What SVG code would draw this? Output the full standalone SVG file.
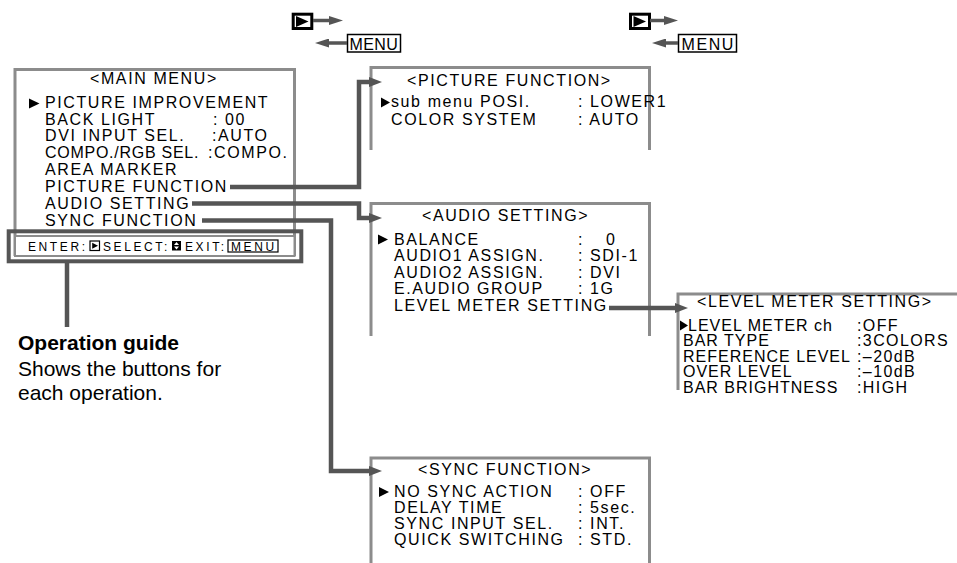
<svg xmlns="http://www.w3.org/2000/svg" width="957" height="563" viewBox="0 0 957 563">
<defs>
<style>
text{font-family:"Liberation Sans",Arial,sans-serif;fill:#000}
.m{font-size:16px;letter-spacing:1.6px}
.lv{font-size:16px;letter-spacing:1px}
.lvv{font-size:16px;letter-spacing:1.4px}
.g{font-size:12px;letter-spacing:2.6px}
.frame{fill:none;stroke:#8c8c8c;stroke-width:3}
.conn{fill:none;stroke:#555;stroke-width:4.5}
.leg{fill:none;stroke:#555;stroke-width:3.5}
.cap{font-size:21px}
</style>
<marker id="ah" markerUnits="userSpaceOnUse" markerWidth="13" markerHeight="10" refX="0" refY="5" orient="auto">
<path d="M0,0 L13,5 L0,10 z" fill="#555"/>
</marker>
<marker id="ah2" markerUnits="userSpaceOnUse" markerWidth="14" markerHeight="9" refX="0" refY="4.5" orient="auto">
<path d="M0,0 L14,4.5 L0,9 z" fill="#555"/>
</marker>
</defs>

<g id="legend">
<rect x="293.2" y="14.2" width="18.6" height="14.3" fill="#fff" stroke="#000" stroke-width="3"/>
<polygon points="296,16 296,27 308.5,21.5" fill="#000"/>
<rect x="347.5" y="34.5" width="53" height="17.5" fill="#fff" stroke="#000" stroke-width="1.5"/>
<text x="349.5" y="49.5" style="font-size:16px;letter-spacing:0.4px">MENU</text>
<rect x="630.5" y="14.2" width="19" height="14.3" fill="#fff" stroke="#000" stroke-width="3"/>
<polygon points="633.5,16 633.5,27 646,21.5" fill="#000"/>
<rect x="678.5" y="34.5" width="58" height="17.5" fill="#fff" stroke="#000" stroke-width="1.5"/>
<text x="681.5" y="49.5" style="font-size:16px;letter-spacing:1.6px">MENU</text>
</g>

<g id="main-menu">
<path class="frame" d="M15,256 V69.5 H294.5 V256"/>
<text class="m" x="90" y="84">&lt;MAIN MENU&gt;</text>
<polygon points="29,98.5 39.5,103.5 29,108.5" fill="#000"/>
<text class="m" x="45" y="108">PICTURE IMPROVEMENT</text>
<text class="m" x="45" y="124.5">BACK LIGHT</text>
<text class="m" x="213" y="124.5">: 00</text>
<text class="m" x="45" y="141">DVI INPUT SEL.</text>
<text class="m" x="212" y="141">:AUTO</text>
<text class="m" x="45" y="158" textLength="155" lengthAdjust="spacing">COMPO./RGB SEL.</text>
<text class="m" x="208" y="158">:COMPO.</text>
<text class="m" x="45" y="174.5">AREA MARKER</text>
<text class="m" x="45" y="191.5">PICTURE FUNCTION</text>
<text class="m" x="45" y="208.5">AUDIO SETTING</text>
<text class="m" x="45" y="225.5">SYNC FUNCTION</text>
</g>

<g id="operation-guide">
<rect x="15" y="236" width="279.5" height="20" fill="#fff" stroke="#8c8c8c" stroke-width="2"/>
<rect x="8.7" y="231.3" width="292.6" height="30" fill="none" stroke="#555" stroke-width="4"/>
<text class="g" x="28" y="250.5">ENTER:</text>
<rect x="90" y="241" width="9.5" height="9.5" fill="#fff" stroke="#000" stroke-width="1.2"/>
<polygon points="92.2,242.7 92.2,248.8 98,245.75" fill="#000"/>
<text class="g" x="103" y="250.5">SELECT:</text>
<rect x="172" y="241" width="9" height="9.5" fill="#000"/>
<polygon points="176.5,242 174,244.9 179,244.9" fill="#fff"/>
<polygon points="176.5,249.5 174,246.6 179,246.6" fill="#fff"/>
<text class="g" x="185" y="250.5">EXIT:</text>
<rect x="228" y="240" width="50" height="12" fill="#fff" stroke="#000" stroke-width="1.2"/>
<text class="g" x="231" y="250.5">MENU</text>
<text class="cap" x="18" y="350" font-weight="bold">Operation guide</text>
<text class="cap" x="18" y="375.5">Shows the buttons for</text>
<text class="cap" x="18" y="400">each operation.</text>
</g>

<g id="picture-function">
<path class="frame" d="M371,150 V67.5 H649.5 V150"/>
<text class="m" x="407" y="86">&lt;PICTURE FUNCTION&gt;</text>
<polygon points="381,97.5 390,102.5 381,107.5" fill="#000"/>
<text class="m" x="391" y="107">sub menu POSI.</text>
<text class="m" x="578" y="107">: LOWER1</text>
<text class="m" x="391" y="125">COLOR SYSTEM</text>
<text class="m" x="578" y="125">: AUTO</text>
</g>

<g id="audio-setting">
<path class="frame" d="M371,336 V203.5 H649.5 V336"/>
<text class="m" x="422" y="221">&lt;AUDIO SETTING&gt;</text>
<polygon points="378,234.5 388,239.5 378,244.5" fill="#000"/>
<text class="m" x="394" y="245">BALANCE</text>
<text class="m" x="578" y="245">:</text>
<text class="m" x="606" y="245">0</text>
<text class="m" x="394" y="261">AUDIO1 ASSIGN.</text>
<text class="m" x="578" y="261">: SDI-1</text>
<text class="m" x="394" y="277.5">AUDIO2 ASSIGN.</text>
<text class="m" x="578" y="277.5">: DVI</text>
<text class="m" x="394" y="294">E.AUDIO GROUP</text>
<text class="m" x="578" y="294">: 1G</text>
<text class="m" x="394" y="311">LEVEL METER SETTING</text>
</g>

<g id="level-meter-setting">
<path class="frame" d="M678,390 V294 H960"/>
<text class="m" x="697" y="306.5">&lt;LEVEL METER SETTING&gt;</text>
<polygon points="680,320.5 688,325.5 680,330.5" fill="#000"/>
<text class="lv" x="688" y="330.5">LEVEL METER ch</text>
<text class="lvv" x="857" y="330.5">:OFF</text>
<text class="lv" x="683" y="346">BAR TYPE</text>
<text class="lvv" x="857" y="346">:3COLORS</text>
<text class="lv" x="683" y="361.5">REFERENCE LEVEL</text>
<text class="lvv" x="857" y="361.5">:–20dB</text>
<text class="lv" x="683" y="377">OVER LEVEL</text>
<text class="lvv" x="857" y="377">:–10dB</text>
<text class="lv" x="683" y="392.5">BAR BRIGHTNESS</text>
<text class="lvv" x="857" y="392.5">:HIGH</text>
</g>

<g id="sync-function">
<path class="frame" d="M371,563 V458 H649.5 V563"/>
<text class="m" x="418" y="474.5">&lt;SYNC FUNCTION&gt;</text>
<polygon points="379,487 389,492 379,497" fill="#000"/>
<text class="m" x="394" y="497">NO SYNC ACTION</text>
<text class="m" x="578" y="497">: OFF</text>
<text class="m" x="394" y="513">DELAY TIME</text>
<text class="m" x="578" y="513">: 5sec.</text>
<text class="m" x="394" y="529">SYNC INPUT SEL.</text>
<text class="m" x="578" y="529">: INT.</text>
<text class="m" x="394" y="545">QUICK SWITCHING</text>
<text class="m" x="578" y="545">: STD.</text>
</g>

<g id="connectors">
<path class="conn" d="M230,187 H359 V82 H369" marker-end="url(#ah)"/>
<path class="conn" d="M192,203.5 H359 V218 H369" marker-end="url(#ah)"/>
<path class="conn" d="M202,220.5 H331 V471 H369" marker-end="url(#ah)"/>
<path class="conn" d="M609,308 H675" marker-end="url(#ah)"/>
<path class="conn" d="M67,263 V327"/>
<path class="leg" d="M313,20.5 H329" marker-end="url(#ah2)"/>
<path class="leg" d="M347,43 H329" marker-end="url(#ah2)"/>
<path class="leg" d="M650,20.5 H664" marker-end="url(#ah2)"/>
<path class="leg" d="M678,43 H666" marker-end="url(#ah2)"/>
</g>
</svg>
